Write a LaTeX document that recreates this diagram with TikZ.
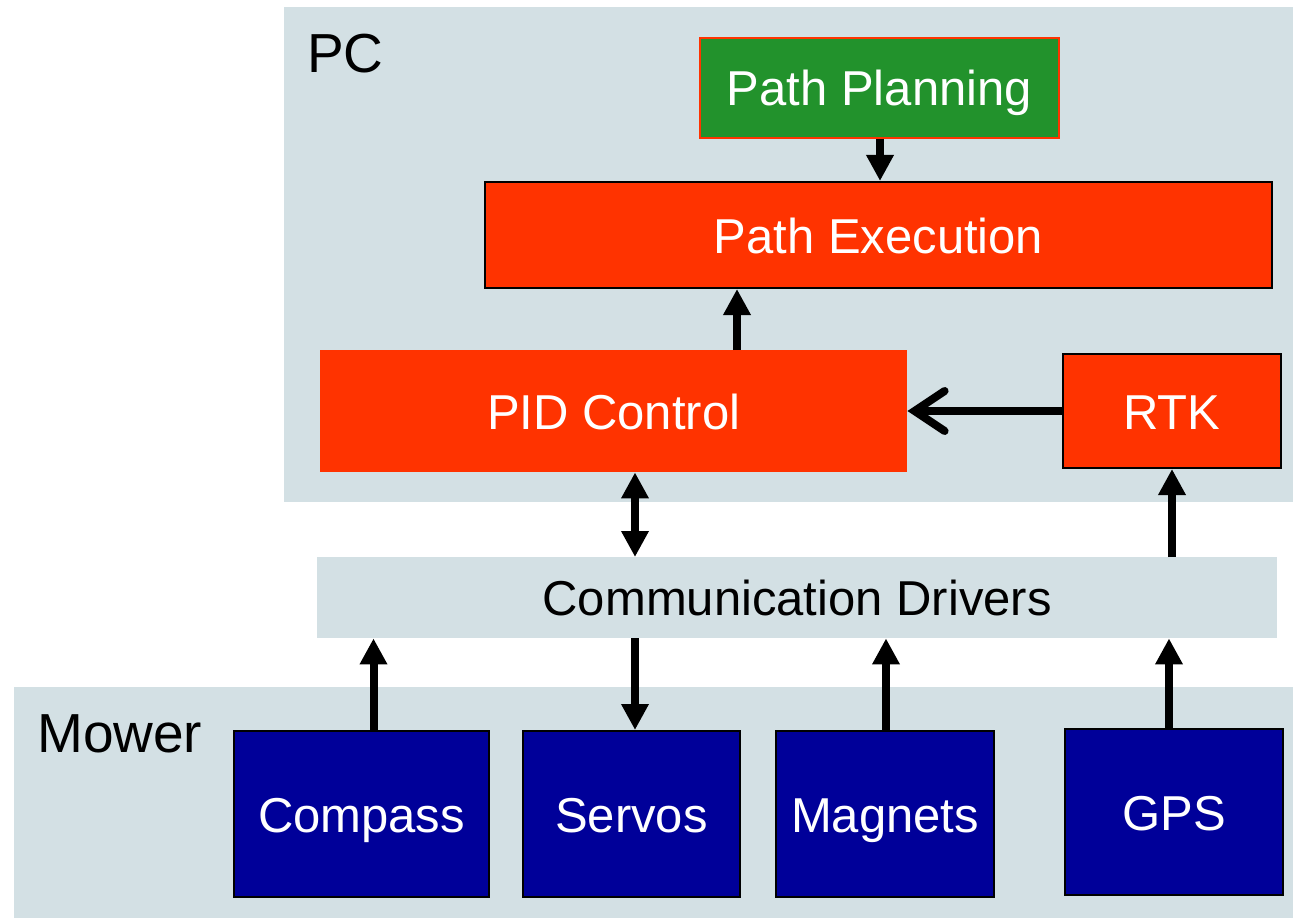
\documentclass[tikz,border=0pt]{standalone}
\usepackage{fontspec}
\setmainfont{Liberation Sans}
\usetikzlibrary{arrows.meta,calc}
\definecolor{bgpanel}{RGB}{211,224,228}
\definecolor{redbox}{RGB}{255,51,0}
\definecolor{bluebox}{RGB}{0,0,153}
\definecolor{greenbox}{RGB}{34,146,44}
\tikzset{
  box/.style={anchor=north west, inner sep=0pt, text=white, text height=36pt, text depth=0pt, font=\fontsize{49}{58}\selectfont},
  redb/.style={box, fill=redbox, draw=black, line width=2pt},
  blueb/.style={box, fill=bluebox, draw=black, line width=2pt},
  panel/.style={fill=bgpanel, draw=none},
  arr/.style={line width=8pt, -{Triangle[length=26pt,width=26pt]}},
  darr/.style={line width=8pt, {Triangle[length=26pt,width=26pt]}-{Triangle[length=26pt,width=26pt]}},
  openarr/.style={line width=8pt, -{Straight Barb[length=30pt,width=40pt,line cap=round]}},
  bigtitle/.style={anchor=base west, inner sep=0pt, font=\fontsize{55}{64}\selectfont}
}
\begin{document}
\begin{tikzpicture}[x=1pt,y=-1pt]
\useasboundingbox (0,0) rectangle (1293,920);
% panels
\fill[panel] (284,7) rectangle (1293,502);
\fill[panel] (14,687) rectangle (1293,918);
\node[bigtitle] (pc) at (307,73) {PC};
\node[bigtitle] (mower) at (37,752) {Mower};
% boxes
\node[box, fill=greenbox, draw=redbox, line width=2pt, minimum width=359pt, minimum height=100pt] (plan) at (699,37) {Path Planning};
\node[redb, minimum width=787pt, minimum height=106pt] (exec) at (484,181) {Path Execution};
\node[box, fill=redbox, minimum width=587pt, minimum height=122pt] (pid) at (320,350) {PID Control};
\node[redb, minimum width=218pt, minimum height=114pt] (rtk) at (1062,353) {RTK};
\node[box, fill=bgpanel, text=black, minimum width=960pt, minimum height=81pt] (comm) at (317,557) {Communication Drivers};
\node[blueb, minimum width=255pt, minimum height=166pt] (compass) at (233,730) {Compass};
\node[blueb, minimum width=217pt, minimum height=166pt] (servos) at (522,730) {Servos};
\node[blueb, minimum width=218pt, minimum height=166pt] (magnets) at (775,730) {Magnets};
\node[blueb, minimum width=218pt, minimum height=166pt] (gps) at (1064,728) {GPS};
% connectors
\draw[arr] (plan.south -| 880,0) -- (exec.north -| 880,0);
\draw[arr] (pid.north -| 737,0) -- (exec.south -| 737,0);
\draw[openarr] (rtk.west) -- (pid.east |- rtk.west);
\draw[darr] (pid.south -| 635,0) -- (comm.north -| 635,0);
\draw[arr] (comm.north -| rtk.south) -- (rtk.south);
\draw[arr] ([xshift=12pt]compass.north) -- ([xshift=12pt]compass.north |- comm.south);
\draw[arr] (comm.south -| 635,0) -- (servos.north -| 635,0);
\draw[arr] ([xshift=1pt]magnets.north) -- ([xshift=1pt]magnets.north |- comm.south);
\draw[arr] ([xshift=-5pt]gps.north) -- ([xshift=-5pt]gps.north |- comm.south);
\end{tikzpicture}
\end{document}
